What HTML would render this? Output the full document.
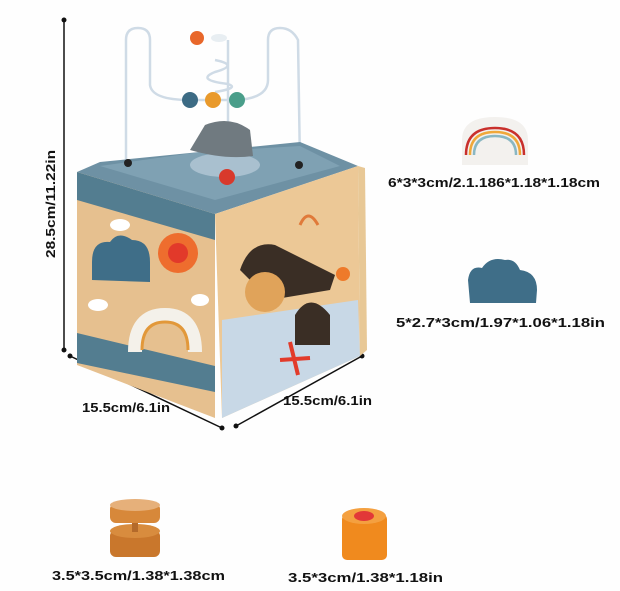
<!DOCTYPE html>
<html><head><meta charset="utf-8"><style>
html,body{margin:0;padding:0;background:#fff;}
svg{display:block;}
text{font-family:"Liberation Sans",sans-serif;font-weight:bold;fill:#111;font-size:13px;}
</style></head><body>
<svg width="620" height="591" viewBox="0 0 620 591" xmlns="http://www.w3.org/2000/svg">
<rect width="620" height="591" fill="#fefefe"/>
<!-- dimension lines -->
<line x1="64" y1="20" x2="64" y2="350" stroke="#111" stroke-width="1.5"/>
<circle cx="64" cy="20" r="2.5" fill="#111"/><circle cx="64" cy="350" r="2.5" fill="#111"/>
<line x1="70" y1="356" x2="222" y2="428" stroke="#111" stroke-width="1.5"/>
<circle cx="70" cy="356" r="2.5" fill="#111"/><circle cx="222" cy="428" r="2.5" fill="#111"/>
<line x1="236" y1="426" x2="362" y2="356" stroke="#111" stroke-width="1.5"/>
<circle cx="236" cy="426" r="2.5" fill="#111"/><circle cx="362" cy="356" r="2.5" fill="#111"/>
<text x="0" y="0" transform="translate(55,258) rotate(-90)" textLength="108" lengthAdjust="spacingAndGlyphs">28.5cm/11.22in</text>
<text x="82" y="412" textLength="88" lengthAdjust="spacingAndGlyphs">15.5cm/6.1in</text>
<text x="283" y="405" textLength="89" lengthAdjust="spacingAndGlyphs">15.5cm/6.1in</text>
<!-- wires -->
<g fill="none" stroke="#cfdbe6" stroke-width="2.5">
<path d="M126,165 L126,40 Q126,28 138,28 Q150,28 150,40 L150,85 Q152,100 190,100 L237,100 Q268,98 268,80 L268,40 Q268,28 280,28 Q292,28 298,40 L300,165"/>
<path d="M228,177 L228,40 M215,60 Q240,65 215,72 Q195,80 228,84 Q240,88 215,92"/>
</g>
<!-- top face -->
<polygon points="77,172 100,162 300,142 358,166 215,214" fill="#6e91a4"/>
<polygon points="100,166 200,152 300,146 340,166 215,200" fill="#7fa1b3"/>
<ellipse cx="225" cy="165" rx="35" ry="12" fill="#a9c0cf"/>
<path d="M190,150 L205,125 Q230,115 250,130 L253,156 Q225,160 190,150Z" fill="#707a80"/>
<circle cx="227" cy="177" r="8" fill="#d8392c"/>
<circle cx="128" cy="163" r="4" fill="#222"/><circle cx="299" cy="165" r="4" fill="#222"/>
<!-- beads -->
<circle cx="190" cy="100" r="8" fill="#3c6b84"/>
<circle cx="213" cy="100" r="8" fill="#e99a2c"/>
<circle cx="237" cy="100" r="8" fill="#4a9e8a"/>
<circle cx="197" cy="38" r="7" fill="#e8672a"/>
<ellipse cx="219" cy="38" rx="8" ry="4" fill="#e8eef2"/>
<!-- left face -->
<polygon points="77,172 215,214 215,418 77,365" fill="#e6c08f"/>
<polygon points="77,172 215,214 215,240 77,200" fill="#537d90"/>
<polygon points="77,333 215,366 215,392 77,363" fill="#537d90"/>
<path d="M92,262 Q92,240 110,242 Q118,230 132,240 Q150,240 150,262 L150,282 L92,280Z" fill="#3f6e88"/>
<circle cx="178" cy="253" r="20" fill="#ee6d2e"/><circle cx="178" cy="253" r="10" fill="#e2392a"/>
<path d="M135,352 Q135,315 165,315 Q195,315 195,352" fill="none" stroke="#f4f1ea" stroke-width="14"/>
<path d="M142,350 Q142,322 165,322 Q188,322 188,350" fill="none" stroke="#e2983a" stroke-width="3"/>
<ellipse cx="120" cy="225" rx="10" ry="6" fill="#fff"/><ellipse cx="98" cy="305" rx="10" ry="6" fill="#fff"/><ellipse cx="200" cy="300" rx="9" ry="6" fill="#fff"/>
<!-- right face -->
<polygon points="215,214 358,166 360,356 222,418" fill="#ecc896"/>
<polygon points="222,320 358,300 360,356 222,418" fill="#c8d8e6"/>
<polygon points="358,166 365,168 367,350 360,356" fill="#e8c896"/>
<path d="M240,270 Q250,240 275,245 L335,275 L330,290 L270,300 Z" fill="#3a2e25"/>
<circle cx="265" cy="292" r="20" fill="#e0a35a"/>
<path d="M295,345 L295,315 Q310,290 330,315 L330,345Z" fill="#3a2e25"/>
<path d="M290,342 L298,375 M280,360 L310,358" stroke="#e23b2a" stroke-width="4"/>
<circle cx="343" cy="274" r="7" fill="#ee7a2a"/>
<path d="M300,225 Q308,207 318,225" fill="none" stroke="#e07a3a" stroke-width="3"/>
<!-- rainbow piece -->
<path d="M462,165 L462,140 Q462,117 495,117 Q528,117 528,140 L528,165Z" fill="#f3f1ee"/>
<path d="M466,155 Q466,128 495,128 Q524,128 524,155" fill="none" stroke="#c9302c" stroke-width="2.5"/>
<path d="M470,155 Q470,132 495,132 Q520,132 520,155" fill="none" stroke="#f0a83a" stroke-width="2.5"/>
<path d="M474,155 Q474,136 495,136 Q516,136 516,155" fill="none" stroke="#8ab7c2" stroke-width="2.5"/>
<text x="388" y="187" textLength="212" lengthAdjust="spacingAndGlyphs">6*3*3cm/2.1.186*1.18*1.18cm</text>
<!-- cloud -->
<path d="M470,303 L468,280 Q470,265 482,268 Q490,256 505,260 Q515,258 520,270 Q537,272 537,290 L536,303Z" fill="#3f6e88"/>
<text x="396" y="327" textLength="209" lengthAdjust="spacingAndGlyphs">5*2.7*3cm/1.97*1.06*1.18in</text>
<!-- bead piece -->
<rect x="110" y="530" width="50" height="27" rx="6" fill="#c9772c"/>
<ellipse cx="135" cy="531" rx="25" ry="7" fill="#d88c3e"/>
<rect x="132" y="520" width="6" height="12" fill="#b46a2a"/>
<rect x="110" y="503" width="50" height="20" rx="6" fill="#d7883a"/>
<ellipse cx="135" cy="505" rx="25" ry="6" fill="#e6b07a"/>
<text x="52" y="580" textLength="173" lengthAdjust="spacingAndGlyphs">3.5*3.5cm/1.38*1.38cm</text>
<!-- orange cylinder -->
<rect x="342" y="514" width="45" height="46" rx="5" fill="#f08a1e"/>
<ellipse cx="364" cy="516" rx="22" ry="8" fill="#f4a040"/>
<ellipse cx="364" cy="516" rx="10" ry="5" fill="#e23838"/>
<text x="288" y="582" textLength="155" lengthAdjust="spacingAndGlyphs">3.5*3cm/1.38*1.18in</text>
</svg>
</body></html>
